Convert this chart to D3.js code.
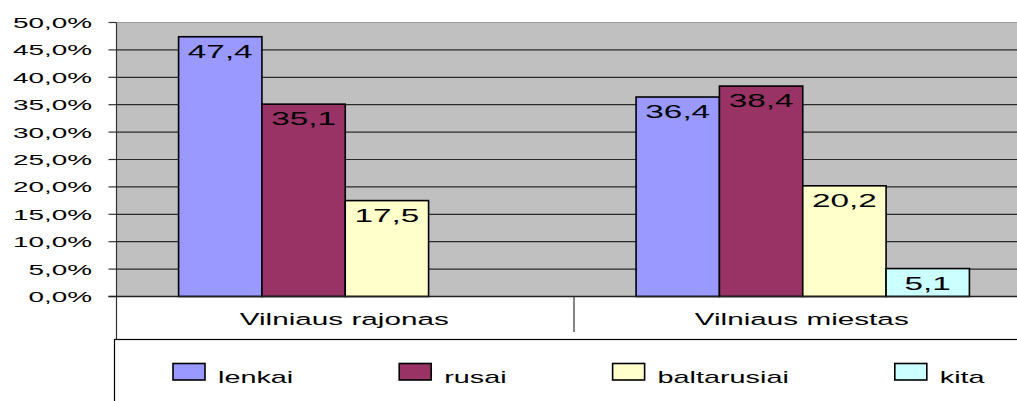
<!DOCTYPE html>
<html>
<head>
<meta charset="utf-8">
<script src="https://cdn.jsdelivr.net/npm/d3@7"></script>
<style>
  body { margin: 0; background: #fff; }
  svg { display: block; font-family: "Liberation Sans", Arial, sans-serif; }
</style>
</head>
<body>
<div id="chart"></div>
<script>
// data
var categories = ["Vilniaus rajonas", "Vilniaus miestas"];
var seriesNames = ["lenkai", "rusai", "baltarusiai", "kita"];
var lenkai = [47.4, 36.4];
var rusai = [35.1, 38.4];
var baltarusiai = [17.5, 20.2];
var kita = [null, 5.1];
var yTicks = [0, 5, 10, 15, 20, 25, 30, 35, 40, 45, 50];
var colors = ["#9999ff", "#993366", "#ffffcc", "#ccffff"];

var seriesValues = [lenkai, rusai, baltarusiai, kita];
var width = 1017, height = 401;
var SX = 1.8; // text in the original is stretched horizontally

var svg = d3.select("#chart").append("svg")
    .attr("width", width).attr("height", height);

var plotLeft = 116.5, plotTop = 22.5, plotBottom = 296.5, plotRight = 1031.5;

var x0 = d3.scaleBand().domain(categories).range([plotLeft, plotRight]).padding(0);
var x1 = d3.scaleBand().domain(seriesNames).range([0, x0.bandwidth()]).paddingInner(0).paddingOuter(0.745);
var y = d3.scaleLinear().domain([0, 50]).range([plotBottom, plotTop]);

function fmt(v) { return d3.format(".1f")(v).replace(".", ","); }

function stretchText(sel, x, yy) {
    sel.attr("transform", "translate(" + x + "," + yy + ") scale(" + SX + ",1)");
}

// plot area
svg.append("rect")
    .attr("x", plotLeft).attr("y", plotTop)
    .attr("width", plotRight - plotLeft).attr("height", plotBottom - plotTop)
    .attr("fill", "#c0c0c0");

svg.append("g").selectAll("line")
    .data(yTicks.filter(function(d) { return d > 0; }))
    .enter().append("line")
    .attr("x1", plotLeft).attr("x2", plotRight)
    .attr("y1", function(d) { return y(d); }).attr("y2", function(d) { return y(d); })
    .attr("stroke", function(d) { return d === 50 ? "#9a9a9a" : "#2a2a2a"; })
    .attr("stroke-width", 1.2);

// bars
var rows = [];
categories.forEach(function(c, i) {
    seriesNames.forEach(function(s, j) {
        if (seriesValues[j][i] != null) rows.push({cat: c, key: s, value: seriesValues[j][i], idx: j});
    });
});

var bars = svg.append("g").selectAll("g")
    .data(rows).enter().append("g");

bars.append("rect")
    .attr("x", function(d) { return x0(d.cat) + x1(d.key); })
    .attr("y", function(d) { return y(d.value); })
    .attr("width", x1.bandwidth())
    .attr("height", function(d) { return plotBottom - y(d.value); })
    .attr("fill", function(d) { return colors[d.idx]; })
    .attr("stroke", "#000").attr("stroke-width", 1.6);

bars.append("text")
    .attr("text-anchor", "middle")
    .attr("font-size", 18.5)
    .attr("fill", "#000")
    .text(function(d) { return fmt(d.value); })
    .each(function(d) {
        stretchText(d3.select(this), x0(d.cat) + x1(d.key) + x1.bandwidth() / 2, y(d.value) + 21);
    });

// y axis
svg.append("line")
    .attr("x1", plotLeft).attr("x2", plotLeft)
    .attr("y1", plotTop).attr("y2", 339)
    .attr("stroke", "#333").attr("stroke-width", 1.2);

var yAxis = svg.append("g");
yAxis.selectAll("line").data(yTicks).enter().append("line")
    .attr("x1", plotLeft - 8).attr("x2", plotLeft)
    .attr("y1", function(d) { return y(d); }).attr("y2", function(d) { return y(d); })
    .attr("stroke", "#333").attr("stroke-width", 1.2);
yAxis.selectAll("text").data(yTicks).enter().append("text")
    .attr("text-anchor", "end")
    .attr("font-size", 15.5)
    .attr("dy", "0.36em")
    .text(function(d) { return fmt(d) + "%"; })
    .each(function(d) { stretchText(d3.select(this), 92, y(d)); });

// category axis
svg.append("line")
    .attr("x1", plotLeft - 8).attr("x2", plotRight)
    .attr("y1", plotBottom).attr("y2", plotBottom)
    .attr("stroke", "#222").attr("stroke-width", 1.4);

svg.append("g").selectAll("line")
    .data(categories.slice(1)).enter().append("line")
    .attr("x1", function(d) { return x0(d); }).attr("x2", function(d) { return x0(d); })
    .attr("y1", plotBottom).attr("y2", 332)
    .attr("stroke", "#333").attr("stroke-width", 1.2);

svg.append("g").selectAll("text")
    .data(categories).enter().append("text")
    .attr("text-anchor", "middle")
    .attr("font-size", 16.5)
    .text(function(d) { return d; })
    .each(function(d) { stretchText(d3.select(this), x0(d) + x0.bandwidth() / 2 - 1, 325); });

// legend
svg.append("rect")
    .attr("x", 114.5).attr("y", 339.5)
    .attr("width", 1000).attr("height", 100)
    .attr("fill", "#fff")
    .attr("stroke", "#000").attr("stroke-width", 1.2);

var lx = 173;
seriesNames.forEach(function(s, i) {
    var g = svg.append("g");
    g.append("rect")
        .attr("x", lx).attr("y", 363.5)
        .attr("width", 32).attr("height", 16.5)
        .attr("fill", colors[i])
        .attr("stroke", "#000").attr("stroke-width", 1.6);
    var t = g.append("text")
        .attr("font-size", 16)
        .text(s);
    stretchText(t, lx + 45, 383);
    lx = lx + 45 + t.node().getComputedTextLength() * SX + 106;
});
</script>
</body>
</html>
